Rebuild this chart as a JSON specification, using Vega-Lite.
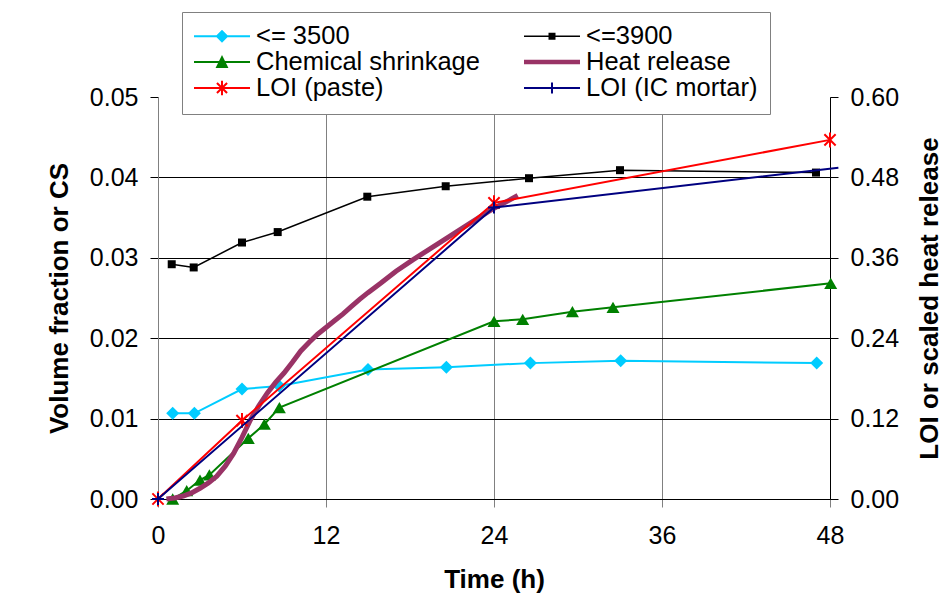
{
  "$schema": "https://vega.github.io/schema/vega-lite/v6.json",
  "width": 672,
  "height": 402,
  "autosize": {"type": "none"},
  "padding": {"left": 158, "top": 97, "right": 115, "bottom": 106},
  "background": "white",
  "config": {
    "font": "Liberation Sans",
    "view": {"stroke": null},
    "axis": {
      "labelFont": "Liberation Sans",
      "titleFont": "Liberation Sans",
      "labelFontSize": 25,
      "titleFontSize": 26,
      "titleFontWeight": "bold",
      "labelColor": "black",
      "titleColor": "black",
      "tickColor": "black",
      "domainColor": "black",
      "tickSize": 8,
      "tickWidth": 1,
      "domainWidth": 1,
      "gridWidth": 1,
      "gridColor": "black",
      "labelFlush": false
    },
    "legend": {
      "orient": "none",
      "legendX": 24,
      "legendY": -85,
      "direction": "horizontal",
      "columns": 2,
      "columnPadding": 44,
      "rowPadding": 0,
      "padding": 12,
      "clipHeight": 24,
      "gridAlign": "all",
      "labelFont": "Liberation Sans",
      "labelFontSize": 25.5,
      "labelColor": "black",
      "labelOffset": 6,
      "labelLimit": 500,
      "symbolSize": 3136,
      "symbolStrokeWidth": 0,
      "symbolOpacity": 1,
      "fillColor": "white",
      "strokeColor": "#808080"
    }
  },
  "datasets": {
    "left": [
      {"s": "<= 3500", "t": 1.05, "v": 0.01066},
      {"s": "<= 3500", "t": 2.6, "v": 0.01066},
      {"s": "<= 3500", "t": 6.0, "v": 0.01368},
      {"s": "<= 3500", "t": 8.66, "v": 0.01405},
      {"s": "<= 3500", "t": 15.0, "v": 0.0161},
      {"s": "<= 3500", "t": 20.6, "v": 0.0164},
      {"s": "<= 3500", "t": 26.6, "v": 0.0169},
      {"s": "<= 3500", "t": 33.05, "v": 0.0172},
      {"s": "<= 3500", "t": 47.05, "v": 0.0169},
      {"s": "<=3900", "t": 0.98, "v": 0.0292},
      {"s": "<=3900", "t": 2.55, "v": 0.0288},
      {"s": "<=3900", "t": 6.0, "v": 0.0319},
      {"s": "<=3900", "t": 8.55, "v": 0.0332},
      {"s": "<=3900", "t": 14.95, "v": 0.0376},
      {"s": "<=3900", "t": 20.55, "v": 0.0389},
      {"s": "<=3900", "t": 26.5, "v": 0.0399},
      {"s": "<=3900", "t": 33.0, "v": 0.0409},
      {"s": "<=3900", "t": 47.0, "v": 0.0406},
      {"s": "Chemical shrinkage", "t": 1.05, "v": 0.0},
      {"s": "Chemical shrinkage", "t": 2.05, "v": 0.00103},
      {"s": "Chemical shrinkage", "t": 3.0, "v": 0.00236},
      {"s": "Chemical shrinkage", "t": 3.67, "v": 0.003},
      {"s": "Chemical shrinkage", "t": 6.45, "v": 0.00755},
      {"s": "Chemical shrinkage", "t": 7.6, "v": 0.0093},
      {"s": "Chemical shrinkage", "t": 8.67, "v": 0.01136},
      {"s": "Chemical shrinkage", "t": 24.0, "v": 0.0221},
      {"s": "Chemical shrinkage", "t": 26.05, "v": 0.02235},
      {"s": "Chemical shrinkage", "t": 29.6, "v": 0.0233},
      {"s": "Chemical shrinkage", "t": 32.5, "v": 0.02384},
      {"s": "Chemical shrinkage", "t": 48.05, "v": 0.02683}
    ],
    "right": [
      {"s": "Heat release", "t": 0.6, "v": 0.0},
      {"s": "Heat release", "t": 1.2, "v": 0.0015},
      {"s": "Heat release", "t": 1.8, "v": 0.0045},
      {"s": "Heat release", "t": 2.4, "v": 0.009},
      {"s": "Heat release", "t": 3.0, "v": 0.016},
      {"s": "Heat release", "t": 3.6, "v": 0.024},
      {"s": "Heat release", "t": 4.2, "v": 0.034},
      {"s": "Heat release", "t": 4.8, "v": 0.049},
      {"s": "Heat release", "t": 5.4, "v": 0.068},
      {"s": "Heat release", "t": 6.0, "v": 0.092},
      {"s": "Heat release", "t": 6.6, "v": 0.118},
      {"s": "Heat release", "t": 7.2, "v": 0.139},
      {"s": "Heat release", "t": 7.8, "v": 0.158},
      {"s": "Heat release", "t": 8.4, "v": 0.174},
      {"s": "Heat release", "t": 9.0, "v": 0.188},
      {"s": "Heat release", "t": 9.6, "v": 0.204},
      {"s": "Heat release", "t": 10.2, "v": 0.221},
      {"s": "Heat release", "t": 10.8, "v": 0.234},
      {"s": "Heat release", "t": 11.4, "v": 0.246},
      {"s": "Heat release", "t": 12.0, "v": 0.256},
      {"s": "Heat release", "t": 12.6, "v": 0.266},
      {"s": "Heat release", "t": 13.2, "v": 0.276},
      {"s": "Heat release", "t": 13.8, "v": 0.287},
      {"s": "Heat release", "t": 14.4, "v": 0.298},
      {"s": "Heat release", "t": 15.0, "v": 0.308},
      {"s": "Heat release", "t": 15.9, "v": 0.322},
      {"s": "Heat release", "t": 17.0, "v": 0.34},
      {"s": "Heat release", "t": 18.2, "v": 0.357},
      {"s": "Heat release", "t": 19.4, "v": 0.373},
      {"s": "Heat release", "t": 20.6, "v": 0.389},
      {"s": "Heat release", "t": 21.8, "v": 0.405},
      {"s": "Heat release", "t": 23.0, "v": 0.421},
      {"s": "Heat release", "t": 24.0, "v": 0.434},
      {"s": "Heat release", "t": 25.0, "v": 0.445},
      {"s": "Heat release", "t": 25.7, "v": 0.453},
      {"s": "LOI (paste)", "t": 0, "v": 0},
      {"s": "LOI (paste)", "t": 6.0, "v": 0.117},
      {"s": "LOI (paste)", "t": 24.0, "v": 0.442},
      {"s": "LOI (paste)", "t": 48.0, "v": 0.536},
      {"s": "LOI (IC mortar)", "t": 0, "v": 0},
      {"s": "LOI (IC mortar)", "t": 24.0, "v": 0.435},
      {"s": "LOI (IC mortar)", "t": 48.6, "v": 0.4945}
    ],
    "legend": [
      {"s": "<= 3500", "t": 0, "v": 0},
      {"s": "<=3900", "t": 0, "v": 0},
      {"s": "Chemical shrinkage", "t": 0, "v": 0},
      {"s": "Heat release", "t": 0, "v": 0},
      {"s": "LOI (paste)", "t": 0, "v": 0},
      {"s": "LOI (IC mortar)", "t": 0, "v": 0}
    ]
  },
  "encoding": {
    "x": {
      "field": "t",
      "type": "quantitative",
      "scale": {"domain": [0, 48], "nice": false, "zero": false},
      "axis": {
        "values": [0, 12, 24, 36, 48],
        "title": "Time (h)",
        "grid": true,
        "gridColor": "#808080",
        "tickColor": "#808080",
        "domainColor": "black",
        "labelPadding": 16,
        "titlePadding": 18
      }
    }
  },
  "layer": [
    {
      "data": {"name": "left"},
      "encoding": {
        "y": {
          "field": "v",
          "type": "quantitative",
          "scale": {"domain": [0, 0.05], "nice": false},
          "axis": {
            "values": [0, 0.01, 0.02, 0.03, 0.04, 0.05],
            "format": ".2f",
            "title": "Volume fraction or CS",
            "grid": true,
            "gridColor": "black",
            "gridOpacity": {"condition": {"test": "datum.value >= 0.049", "value": 0}, "value": 1},
            "domainColor": "#808080",
            "labelPadding": 12,
            "titlePadding": 17
          }
        }
      },
      "layer": [
        {
          "transform": [{"filter": "datum.s === '<= 3500'"}],
          "mark": {"type": "line", "color": "#00CCFF", "strokeWidth": 2, "clip": false,
                   "point": {"shape": "diamond", "size": 169, "filled": true, "color": "#00CCFF"}}
        },
        {
          "transform": [{"filter": "datum.s === '<=3900'"}],
          "mark": {"type": "line", "color": "black", "strokeWidth": 1.5, "clip": false,
                   "point": {"shape": "square", "size": 64, "filled": true, "color": "black"}}
        },
        {
          "transform": [{"filter": "datum.s === 'Chemical shrinkage'"}],
          "mark": {"type": "line", "color": "#008000", "strokeWidth": 2, "clip": false,
                   "point": {"shape": "triangle-up", "size": 169, "filled": true, "color": "#008000"}}
        },
        {
          "data": {"name": "legend"},
          "mark": {"type": "point", "filled": true, "opacity": 0, "size": 3136},
          "encoding": {
            "shape": {
              "field": "s",
              "type": "nominal",
              "scale": {
                "domain": ["<= 3500", "<=3900", "Chemical shrinkage", "Heat release", "LOI (paste)", "LOI (IC mortar)"],
                "range": [
                  "M-1,-0.036H1V0.036H-1ZM0,-0.23L0.23,0L0,0.23L-0.23,0Z",
                  "M-1,-0.03H1V0.03H-1ZM-0.125,-0.125H0.125V0.125H-0.125Z",
                  "M-1,-0.036H1V0.036H-1ZM0,-0.25L0.23,0.21L-0.23,0.21Z",
                  "M-1,-0.08H1V0.08H-1Z",
                  "M-1,-0.036H1V0.036H-1ZM-0.036,-0.26H0.036V0.26H-0.036ZM-0.155,-0.206L0.206,0.155L0.155,0.206L-0.206,-0.155ZM0.206,-0.155L-0.155,0.206L-0.206,0.155L0.155,-0.206Z",
                  "M-1,-0.036H1V0.036H-1ZM-0.036,-0.2H0.036V0.2H-0.036Z"
                ]
              },
              "legend": {
                "title": null,
                "encode": {"symbols": {"update": {"opacity": {"value": 1}, "strokeWidth": {"value": 0}}}}
              }
            },
            "fill": {
              "field": "s",
              "type": "nominal",
              "scale": {
                "domain": ["<= 3500", "<=3900", "Chemical shrinkage", "Heat release", "LOI (paste)", "LOI (IC mortar)"],
                "range": ["#00CCFF", "#000000", "#008000", "#993366", "#FF0000", "#000080"]
              },
              "legend": {
                "title": null,
                "encode": {"symbols": {"update": {"opacity": {"value": 1}, "strokeWidth": {"value": 0}}}}
              }
            }
          }
        }
      ]
    },
    {
      "data": {"name": "right"},
      "encoding": {
        "y": {
          "field": "v",
          "type": "quantitative",
          "scale": {"domain": [0, 0.6], "nice": false},
          "axis": {
            "orient": "right",
            "values": [0, 0.12, 0.24, 0.36, 0.48, 0.6],
            "format": ".2f",
            "title": "LOI or scaled heat release",
            "titleAngle": 270,
            "titleBaseline": "top",
            "grid": false,
            "domainColor": "black",
            "labelPadding": 12,
            "titlePadding": 18
          }
        }
      },
      "layer": [
        {
          "transform": [{"filter": "datum.s === 'Heat release'"}],
          "mark": {"type": "line", "color": "#993366", "strokeWidth": 5, "clip": false}
        },
        {
          "transform": [{"filter": "datum.s === 'LOI (paste)'"}],
          "mark": {"type": "line", "color": "#FF0000", "strokeWidth": 2, "clip": false,
                   "point": {"shape": "M0,-1V1M-0.75,-0.75L0.75,0.75M-0.75,0.75L0.75,-0.75", "size": 225, "filled": false, "color": "#FF0000", "strokeWidth": 2}}
        },
        {
          "transform": [{"filter": "datum.s === 'LOI (IC mortar)'"}],
          "mark": {"type": "line", "color": "#000080", "strokeWidth": 2, "clip": false}
        },
        {
          "transform": [{"filter": "datum.s === 'LOI (IC mortar)' && datum.t <= 48"}],
          "mark": {"type": "point", "shape": "M-1,0H1M0,-1V1", "size": 144, "filled": false, "color": "#000080", "strokeWidth": 2, "opacity": 1}
        }
      ]
    }
  ],
  "resolve": {"scale": {"y": "independent"}}
}
